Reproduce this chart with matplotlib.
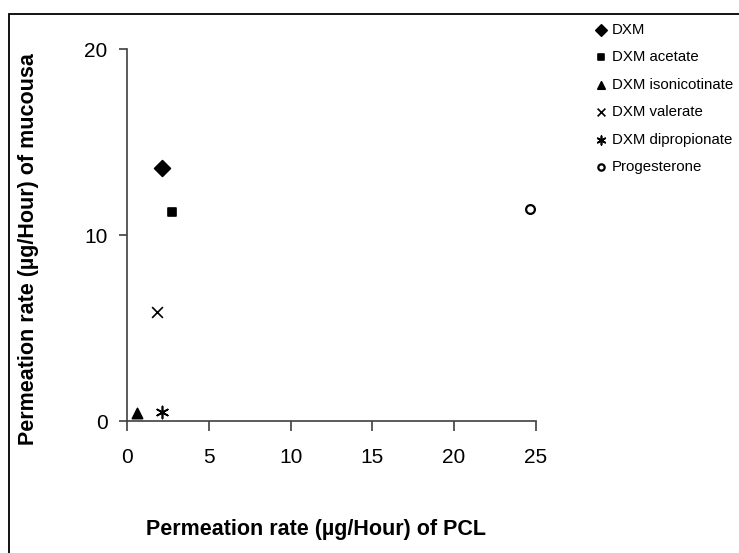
import matplotlib
matplotlib.use('Agg')
import matplotlib.pyplot as plt
from matplotlib.patches import Rectangle

plt.rcParams['font.family'] = ['Liberation Sans', 'DejaVu Sans']

# permeation rates
compounds = ['DXM', 'DXM acetate', 'DXM isonicotinate', 'DXM valerate',
             'DXM dipropionate', 'Progesterone']
pcl_rate = [2.16, 2.73, 0.59, 1.81, 2.12, 24.63]
mucosa_rate = [13.63, 11.24, 0.43, 5.90, 0.48, 11.44]

markers = ['D', 's', '^', 'x', (6, 2, 0), 'o']
sizes = [65, 40, 55, 60, 75, 40]

fig = plt.figure(figsize=(7.39, 5.53), dpi=100)
ax = fig.add_axes([0.172, 0.238, 0.553, 0.673])

for name, x, y, m, s in zip(compounds, pcl_rate, mucosa_rate, markers, sizes):
    if m == 'o':
        ax.scatter(x, y, marker=m, s=s, facecolors='white', edgecolors='black',
                   linewidths=1.6, label=name, zorder=3)
    else:
        ax.scatter(x, y, marker=m, s=s, color='black', linewidths=1.2,
                   label=name, zorder=3)

ax.set_xlim(0, 25)
ax.set_ylim(0, 20)
ax.set_xticks([0, 5, 10, 15, 20, 25])
ax.set_yticks([0, 10, 20])
ax.spines['top'].set_visible(False)
ax.spines['right'].set_visible(False)
for sp in ['left', 'bottom']:
    ax.spines[sp].set_color('#404040')
    ax.spines[sp].set_linewidth(1.2)
ax.tick_params(direction='out', width=1.2, color='#404040', labelsize=15)
ax.tick_params(axis='x', length=7, pad=12)
ax.tick_params(axis='y', length=6, pad=8)

fig.text(0.428, 0.042, 'Permeation rate (\u00b5g/Hour) of PCL',
         ha='center', va='center', fontsize=15.5, fontweight='bold')
fig.text(0.038, 0.55, 'Permeation rate (\u00b5g/Hour) of mucousa',
         ha='center', va='center', rotation=90, fontsize=15.5, fontweight='bold')

ax.legend(loc='upper left', bbox_to_anchor=(0.8, 0.97),
          bbox_transform=fig.transFigure, frameon=False, fontsize=10.8,
          handlelength=0.5, handletextpad=0.5, labelspacing=0.9,
          borderaxespad=0, scatterpoints=1, markerscale=0.72)

# outer frame (only left and top edges fall inside the image)
fig.patches.append(Rectangle((0.012, -0.5), 2, 1.475, transform=fig.transFigure,
                             fill=False, edgecolor='black', linewidth=1.3))

fig.savefig('out.png', dpi=100)
